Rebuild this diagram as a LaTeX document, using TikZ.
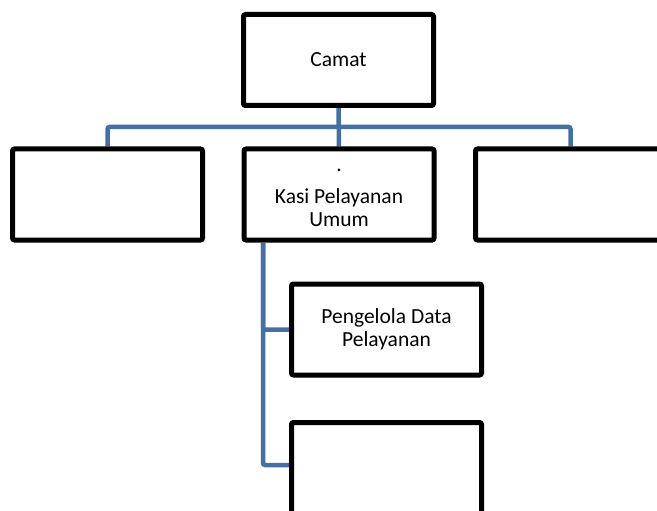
\documentclass[tikz,border=0pt]{standalone}
\usepackage{fontspec}
\setmainfont{Carlito}
\usetikzlibrary{backgrounds}
\definecolor{connblue}{RGB}{68,112,163}
\tikzset{
  orgbox/.style={draw=black, line width=5pt, fill=white, rounded corners=2pt,
    minimum width=190pt, minimum height=91pt, inner sep=0pt, align=center,
    font=\fontsize{21.5}{23.5}\selectfont},
  conn/.style={draw=connblue, line width=4.5pt, rounded corners=2pt}
}
\begin{document}
\begin{tikzpicture}[x=1pt,y=-1pt]
\useasboundingbox (0,0) rectangle (657,511);
\node[orgbox] (camat) at (338.5,60) {Camat};
\node[orgbox] (left) at (107.5,194.5) {};
\node[orgbox] (kasi) at (339,194.5) {\raisebox{-10pt}{\begin{tabular}{@{}c@{}}.\\[8pt]Kasi Pelayanan\\Umum\end{tabular}}};
\node[orgbox] (right) at (570.5,194.5) {};
\node[orgbox] (peng) at (386.5,329.5) {Pengelola Data\\Pelayanan};
\node[orgbox] (bottom) at (386.5,468) {};
\coordinate (bar) at (339,127);
\coordinate (kv) at (263,243);
\coordinate (bj) at (263,465);
\begin{scope}[on background layer]
\draw[conn] (left.north) |- (bar) -| (right.north);
\draw[conn] (camat.south) -- (kasi.north);
\draw[conn] (kv) |- (peng.west);
\draw[conn] (kv) -- (bj) -- (bj -| bottom.west);
\end{scope}
\end{tikzpicture}
\end{document}
